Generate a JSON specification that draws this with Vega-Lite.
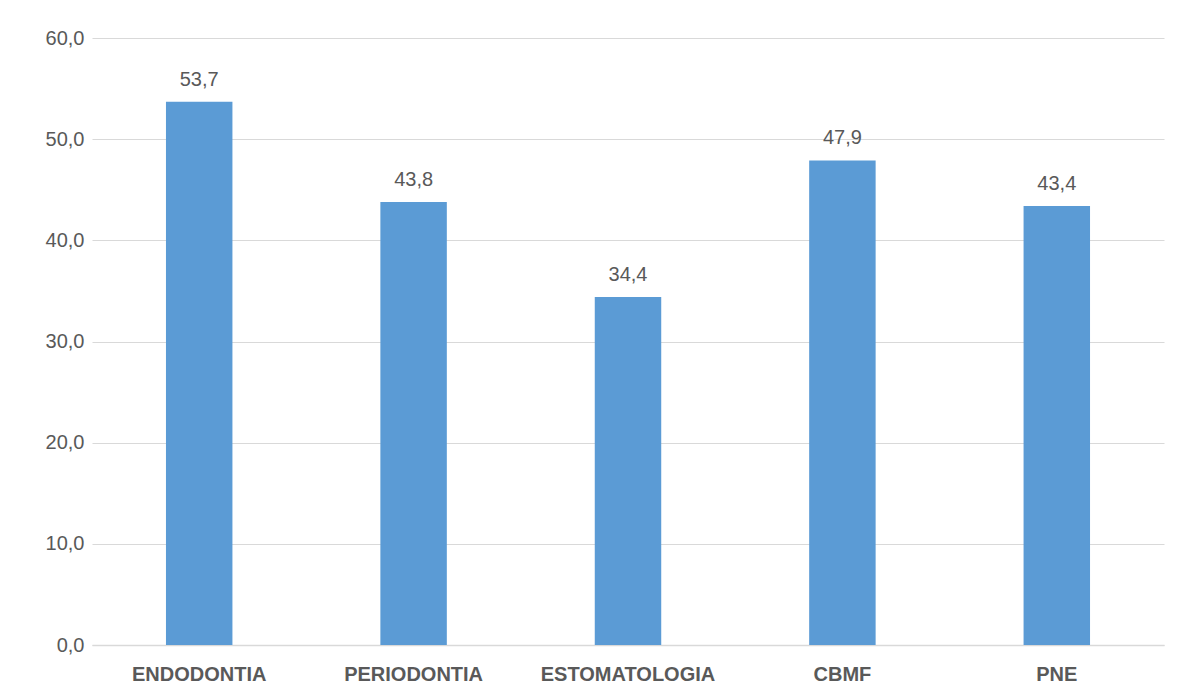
{
  "$schema": "https://vega.github.io/schema/vega-lite/v6.json",
  "width": 1072,
  "height": 607,
  "autosize": {"type": "none"},
  "padding": {"left": 92, "top": 38, "right": 19, "bottom": 54},
  "background": "white",
  "config": {"view": {"stroke": null}, "font": "Liberation Sans"},
  "data": {"values": [
    {"cat": "ENDODONTIA", "v": 53.7},
    {"cat": "PERIODONTIA", "v": 43.8},
    {"cat": "ESTOMATOLOGIA", "v": 34.4},
    {"cat": "CBMF", "v": 47.9},
    {"cat": "PNE", "v": 43.4}
  ]},
  "encoding": {
    "x": {"field": "cat", "type": "nominal", "sort": null, "title": null,
      "scale": {"paddingInner": 0, "paddingOuter": 0},
      "axis": {"labelAngle": 0, "labelFont": "Liberation Sans", "labelFontSize": 20, "labelFontWeight": "bold", "labelColor": "#595959", "labelPadding": 19, "ticks": false, "domainColor": "#d9d9d9", "domainWidth": 1.5}},
    "y": {"field": "v", "type": "quantitative", "title": null,
      "scale": {"domain": [0, 60]},
      "axis": {"values": [0, 10, 20, 30, 40, 50, 60], "labelExpr": "replace(format(datum.value, '.1f'), '.', ',')", "labelFontSize": 20, "labelColor": "#595959", "labelPadding": 8, "ticks": false, "domain": false, "gridColor": "#d9d9d9", "gridWidth": 1.2}}
  },
  "layer": [
    {"mark": {"type": "bar", "color": "#5b9bd5", "width": {"band": 0.31}}},
    {"mark": {"type": "text", "baseline": "bottom", "dy": -12, "fontSize": 20, "color": "#595959",
      "text": {"expr": "replace(format(datum.v, '.1f'), '.', ',')"}}}
  ]
}
